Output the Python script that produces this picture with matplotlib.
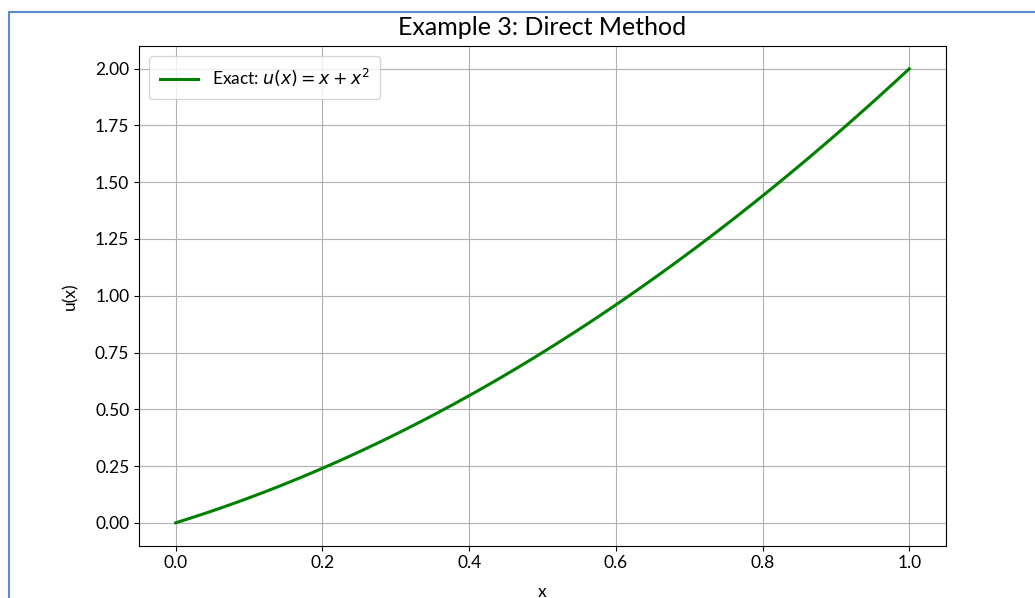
import numpy as np
import matplotlib.pyplot as plt
from matplotlib.patches import Rectangle

plt.rcParams['font.family'] = ['Lato', 'DejaVu Sans']

# exact solution u(x) = x + x^2 on [0, 1]
x = np.linspace(0, 1, 101)
u_exact = x + x**2

title = "Example 3: Direct Method"
legend_label = r"Exact: $u(x) = x + x^2$"

W, H = 1035, 598
fig = plt.figure(figsize=(W / 100, H / 100), dpi=100)
ax = fig.add_axes([139 / W, 1 - 545.5 / H, (946 - 139) / W, (545.5 - 46) / H])

ax.plot(x, u_exact, color="green", linewidth=2.2, label=legend_label)
ax.set_xlim(-0.05, 1.05)
ax.set_ylim(-0.1, 2.1)
ax.set_yticks(np.arange(0, 2.01, 0.25))
ax.grid(True, color="#b0b0b0", linewidth=0.8)
ax.tick_params(labelsize=12.5)
ax.set_title(title, fontsize=18, pad=8)
ax.set_xlabel("x", fontsize=12.5, labelpad=9)
ax.set_ylabel("u(x)", fontsize=12.5, labelpad=12)
ax.legend(loc="upper left", fontsize=12.5, handlelength=2.2, borderpad=0.6,
          borderaxespad=0.6)

# screen frame around the plot
fig.patches.append(Rectangle((9 / W, -0.1), 1.2, 1 - 12 / H + 0.1,
                             transform=fig.transFigure, fill=False,
                             edgecolor="#5b8bd0", linewidth=1.5))

fig.savefig("out.png", dpi=100)
